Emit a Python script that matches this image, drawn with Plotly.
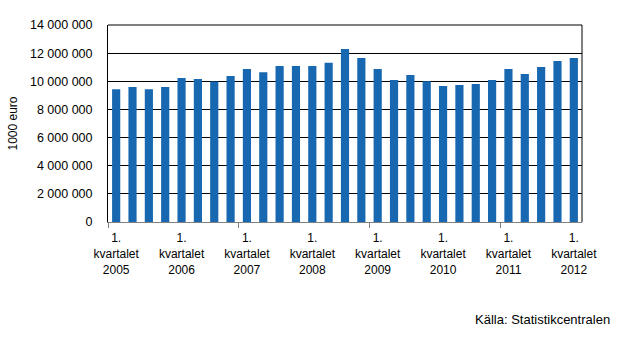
import plotly.graph_objects as go

# Quarterly values, 1000 euro, 2005 Q1 – 2012 Q1
quarters = [f"{y} Q{q}" for y in range(2005, 2013) for q in range(1, 5)][:29]
values = [
    9440000, 9590000, 9440000, 9590000,
    10230000, 10160000, 9990000, 10370000,
    10870000, 10650000, 11080000, 11080000,
    11080000, 11320000, 12290000, 11650000,
    10870000, 10090000, 10440000, 10010000,
    9660000, 9730000, 9800000, 10090000,
    10870000, 10510000, 11010000, 11440000,
    11650000,
]
label_years = ["2005", "2006", "2007", "2008", "2009", "2010", "2011", "2012"]
y_ticks = [0, 2000000, 4000000, 6000000, 8000000, 10000000, 12000000, 14000000]

x_idx = list(range(len(values)))
label_pos = [i * 4 for i in range(len(label_years))]
label_text = [f"1.<br>kvartalet<br>{y}" for y in label_years]
# tick marks sit on category boundaries, every eighth quarter
boundary_ticks = [i - 0.5 for i in range(0, len(values), 8)]

family = "Liberation Sans, Arial, sans-serif"
font = dict(family=family, size=12, color="#000000")

fig = go.Figure(
    go.Bar(
        x=x_idx,
        y=values,
        customdata=quarters,
        marker=dict(color="#1768B0", line=dict(width=0)),
        hovertemplate="%{customdata}: %{y}<extra></extra>",
    )
)

fig.update_layout(
    width=626,
    height=342,
    margin=dict(l=108, r=44, t=25, b=120),
    paper_bgcolor="white",
    plot_bgcolor="white",
    bargap=0.5,
    separators=", ",
    font=font,
    showlegend=False,
    xaxis=dict(
        range=[-0.5, len(values) - 0.5],
        tickmode="array",
        tickvals=label_pos,
        ticktext=label_text,
        ticks="",
        ticklabelstandoff=5,
        showgrid=False,
        zeroline=False,
        showline=True,
        linecolor="#808080",
        linewidth=1,
        tickfont=font,
        minor=dict(
            tickmode="array",
            tickvals=boundary_ticks,
            ticks="outside",
            ticklen=5,
            tickcolor="#808080",
            tickwidth=1,
            showgrid=False,
        ),
    ),
    yaxis=dict(
        range=[0, 14000000],
        tickmode="array",
        tickvals=y_ticks,
        tickformat=",d",
        ticks="",
        ticklabelstandoff=12,
        showgrid=True,
        gridcolor="#000000",
        gridwidth=1,
        zeroline=False,
        showline=True,
        linecolor="#000000",
        linewidth=1,
        tickfont=dict(family=family, size=12.5, color="#000000"),
        title=dict(text="1000 euro", font=font, standoff=9),
    ),
    # top and right edges of the plot frame
    shapes=[
        dict(type="line", xref="paper", yref="paper", x0=0, x1=1, y0=1, y1=1,
             line=dict(color="#000000", width=1)),
        dict(type="line", xref="paper", yref="paper", x0=1, x1=1, y0=0, y1=1,
             line=dict(color="#000000", width=1)),
    ],
    annotations=[
        dict(
            text="Källa: Statistikcentralen",
            xref="paper",
            yref="paper",
            x=1.063,
            y=-0.497,
            xanchor="right",
            yanchor="middle",
            showarrow=False,
            font=dict(family=family, size=13, color="#000000"),
        )
    ],
)

fig.write_html("out.html")
